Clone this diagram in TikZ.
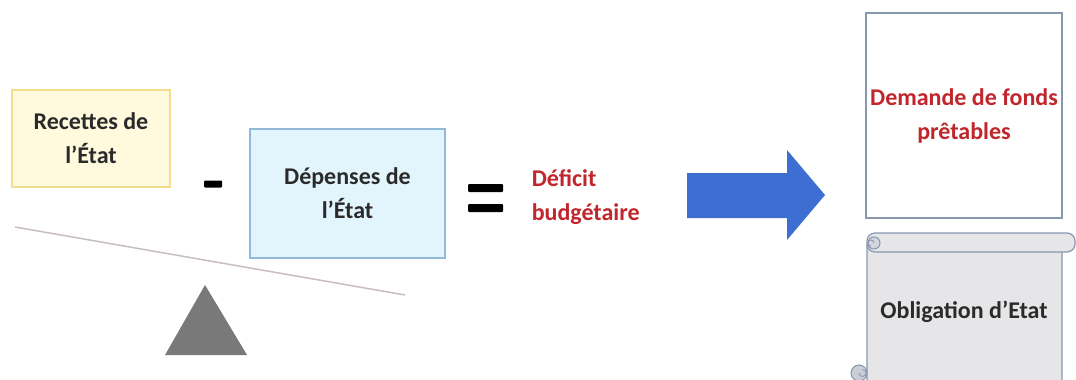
\documentclass[tikz,border=0pt]{standalone}
\usepackage{fontspec}
\setmainfont{Carlito}
\usepackage{xcolor}
\usetikzlibrary{positioning, calc}

\definecolor{recfill}{HTML}{FFF9DD}
\definecolor{recdraw}{HTML}{F3DE8E}
\definecolor{depfill}{HTML}{E3F5FC}
\definecolor{depdraw}{HTML}{93B8D8}
\definecolor{darkred}{HTML}{C0262C}
\definecolor{arrblue}{HTML}{3C6FD1}
\definecolor{scrollfill}{HTML}{E6E6E8}
\definecolor{scrolldraw}{HTML}{8797AE}
\definecolor{beam}{HTML}{C8BEC2}
\definecolor{txt}{HTML}{2A2A2A}

\begin{document}
\begin{tikzpicture}[x=1pt, y=-1pt,
  box/.style={rectangle, line width=1.5pt, align=center, inner sep=0pt,
              font=\fontsize{24}{34}\selectfont\bfseries},
  bar/.style={rectangle, fill=black, inner sep=0pt, rounded corners=1pt,
              minimum height=7pt}
]
\useasboundingbox (0,0) rectangle (1076,380);

% left side: recettes - depenses
\node[box, draw=recdraw, fill=recfill, text=txt, minimum width=158pt, minimum height=97pt]
  (rec) at (91,138.5) {Recettes de\\l’État};
\node[box, draw=depdraw, fill=depfill, text=txt, minimum width=195pt, minimum height=129pt]
  (dep) at (347.5,193.5) {Dépenses de\\l’État};
\node[bar, minimum width=18pt] (minus) at (213,184) {};

% balance
\coordinate (beamL) at (15,227);
\coordinate (beamR) at (405,295);
\draw[beam, line width=1.5pt] (beamL) -- (beamR);
\fill[gray!95!black] (205,285) -- (247,355) -- (165,355) -- cycle;

% equals and result
\node[bar, minimum width=35pt, minimum height=8pt] (eqtop) at (485.5,188) {};
\node[bar, minimum width=35pt, minimum height=8pt] (eqbot) at (485.5,208) {};
\node[box, anchor=west, align=left, text=darkred] (def) at (531,197) {Déficit\\budgétaire};

% big arrow
\fill[arrblue] (687,173) -- (787,173) -- (787,150) -- (825,195)
  -- (787,240) -- (787,218) -- (687,218) -- cycle;

% right side
\node[box, draw=scrolldraw, fill=white, text=darkred, minimum width=196pt, minimum height=205pt]
  (dem) at (964,115.5) {Demande de fonds\\prêtables};

% scroll
\begin{scope}
\clip (0,0) rectangle (1076,380);
\draw[scrolldraw, fill=scrollfill, line width=1.2pt, rounded corners=6pt]
  (867,245) -- (867,395) -- (1062,395) -- (1062,245);
\draw[scrolldraw, fill=scrollfill, line width=1.2pt, rounded corners=8pt]
  (867,233) rectangle (1075,252);
\draw[scrolldraw, fill=scrollfill!80!scrolldraw, line width=1pt] (874,243) circle (6pt);
\draw[scrolldraw, line width=0.8pt] (874,243) arc (0:270:3pt);
\draw[scrolldraw, fill=scrollfill!70!scrolldraw, line width=1pt] (859,373) circle (8pt);
\draw[scrolldraw, line width=0.8pt] (859,373) arc (180:450:3.5pt);
\end{scope}
\node[box, text=txt] (obl) at (964,312) {Obligation d’Etat};
\end{tikzpicture}
\end{document}
